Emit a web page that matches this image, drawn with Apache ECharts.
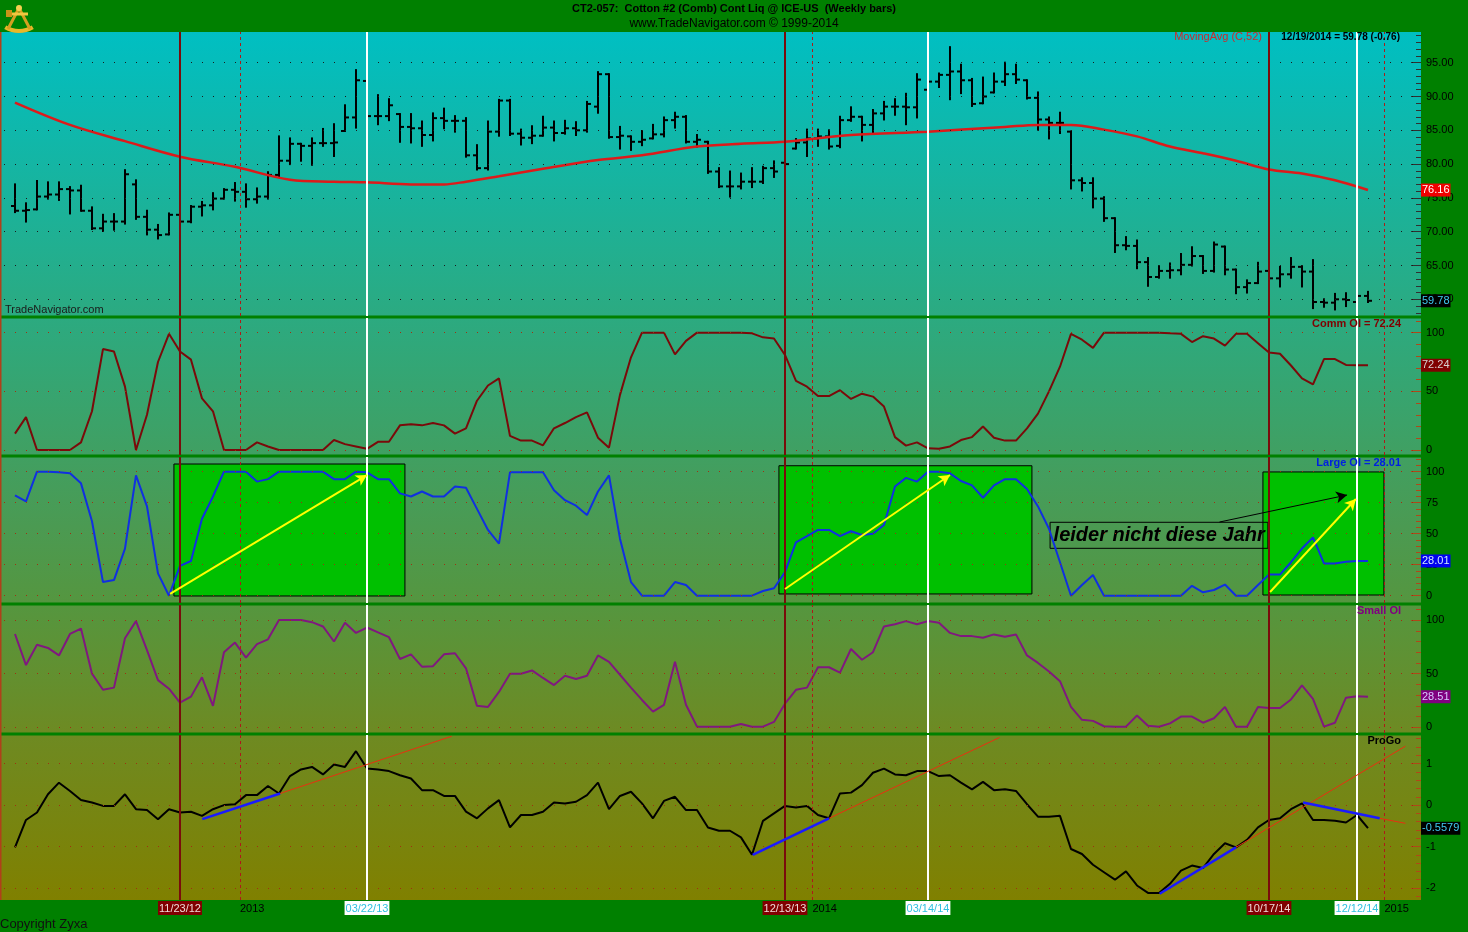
<!DOCTYPE html>
<html><head><meta charset="utf-8">
<script src="https://cdn.jsdelivr.net/npm/echarts@6/dist/echarts.min.js"></script>
<style>html,body{margin:0;padding:0;background:#008000;}#c{width:1468px;height:932px;}</style>
</head><body><div id="c"></div>
<script>
// ---------- DATA ----------
const priceOpen = [73.8,73.1,73.3,75.2,75.5,76.3,76.1,73.1,70.5,71.5,
71.5,77.0,72.2,70.3,69.6,72.5,71.5,73.7,73.9,74.9,
76.2,75.9,74.8,75.2,78.4,80.5,83.0,82.7,83.1,83.1,
84.9,86.9,92.3,87.1,87.1,87.4,85.5,85.3,84.3,86.8,
86.4,86.4,81.3,79.4,84.8,89.4,84.5,83.9,84.2,85.4,
84.6,85.3,85.0,88.5,93.3,84.0,84.1,83.3,83.8,84.4,
86.5,87.0,83.3,83.3,78.9,76.7,76.7,77.4,77.4,79.4,
80.2,82.3,83.2,83.8,84.1,82.7,86.5,87.0,85.8,87.5,
88.5,88.5,88.4,91.0,92.2,93.2,93.7,92.4,89.0,90.6,
92.2,93.3,92.4,89.8,86.6,86.1,84.8,77.6,77.2,74.9,
72.0,68.0,67.9,65.5,63.3,64.2,64.3,65.1,66.4,64.2,
67.8,64.4,61.8,62.4,64.2,63.1,63.7,64.8,64.1,59.6,
59.5,60.0,59.6,60.5];
const priceHigh = [77.0,74.2,77.5,77.3,77.3,76.6,76.8,73.6,72.5,72.6,
79.1,77.6,73.1,71.0,72.7,73.5,73.8,74.4,75.7,76.3,
77.2,77.0,76.4,78.8,84.1,83.8,83.0,83.8,85.2,85.9,
88.7,93.9,93.0,90.2,89.6,87.4,87.4,86.3,87.5,88.2,
87.1,86.8,82.8,86.3,89.5,89.5,85.1,85.6,87.0,86.3,
86.4,86.2,89.2,93.6,93.3,85.5,84.1,84.9,85.8,86.9,
87.6,87.1,84.3,83.3,79.4,78.9,78.6,79.4,79.6,80.4,
80.5,83.7,85.1,85.1,85.0,87.0,88.4,87.0,88.0,89.2,
89.6,90.4,93.3,93.0,93.4,97.3,94.7,92.6,92.8,93.4,
95.0,94.7,92.4,90.6,86.9,87.6,84.8,77.9,77.9,75.1,
72.0,69.2,68.7,66.1,64.9,65.3,66.7,67.7,66.4,68.4,
67.8,64.4,62.8,65.4,64.5,64.8,66.1,64.9,65.8,60.0,
60.8,60.9,60.7,61.1];
const priceLow = [72.9,71.5,73.3,74.9,74.7,72.7,73.1,70.4,70.1,70.3,
71.2,71.9,69.6,69.0,69.6,71.2,71.4,72.4,73.3,74.9,
74.6,73.7,74.3,74.9,78.2,80.0,80.5,79.9,82.7,81.2,
84.9,85.4,86.5,85.9,86.5,83.3,83.2,82.7,83.5,85.3,
84.8,81.1,79.2,79.2,84.2,84.3,82.9,83.1,84.2,83.5,
84.5,84.3,84.8,87.6,83.9,82.3,82.1,82.8,83.8,84.1,
85.4,83.2,82.6,78.7,76.6,75.2,76.4,76.6,77.2,78.1,
79.0,82.3,81.2,82.7,82.3,82.5,86.4,83.5,84.5,86.6,
87.3,85.9,86.9,90.5,91.4,89.6,90.5,88.6,89.0,90.6,
91.7,92.0,89.7,85.1,83.8,84.6,76.4,76.1,73.6,71.6,
67.0,67.4,64.6,62.0,63.2,63.2,63.7,65.0,63.9,64.1,
63.7,60.9,61.0,62.4,62.8,61.9,63.2,61.9,58.7,58.9,
58.5,59.0,59.5,59.6];
const priceClose = [73.1,73.2,75.2,75.5,76.3,76.1,73.1,70.5,71.5,71.5,
78.5,72.2,70.3,69.5,72.5,71.5,73.7,73.9,74.9,76.2,
75.9,74.8,75.2,78.4,80.5,83.0,82.7,83.1,83.1,83.2,
86.9,92.4,87.1,87.1,88.7,85.5,85.3,84.3,86.8,86.4,
86.4,81.3,79.4,84.8,89.4,84.5,83.9,84.2,85.4,84.6,
85.3,85.0,88.9,93.3,84.0,84.2,83.3,83.6,84.4,86.5,
87.0,83.3,83.6,78.9,76.7,76.7,77.4,77.4,79.4,78.9,
80.0,83.2,83.8,84.1,82.6,86.5,87.0,85.8,87.5,88.5,
88.5,88.4,92.5,92.2,93.2,93.7,92.4,88.9,90.0,92.2,
93.3,92.5,89.8,86.6,86.1,86.1,77.6,77.2,74.9,72.0,
68.0,67.9,65.5,63.3,64.2,64.3,65.1,66.4,64.2,68.1,
64.4,61.8,62.4,64.1,63.1,63.7,64.8,64.1,59.6,59.5,
60.0,59.9,60.5,59.78];
// 52-week moving average, read at these bar positions
const maIdx = [0,5,10,15,20,25,29,32,36,39,41,44,48,53,57,62,66,70,76,83,90,93,96,99,102,105,108,111,114,117,120,123];
const maVal = [89.1,85.8,83.4,81.1,79.6,77.7,77.4,77.3,77.0,77.0,77.4,78.2,79.3,80.6,81.3,82.6,83.0,83.3,84.3,84.8,85.5,85.8,85.8,85.1,84.1,82.6,81.6,80.5,79.2,78.6,77.6,76.16];
const commOI = [14,28,0,0,0,0,6.5,33,86,84,
54,0,30,75,99,84,77,44,33,0,
0,0,6.5,3,0,0,0,0,0,8.5,
5,3,1,7,7,21,22,21,23,21,
14,18.5,42,55,61,12,8,8,4,18.5,
23,28,32,10.5,2,47,79,100,100,100,
81.5,93,100,100,100,100,100,99.4,96,95,
81,59,54,46,46,51,43.5,48,45.5,37,
11,3.7,6.5,1.4,1,3,8.5,11,20,10.5,
8,8,18.5,31,50,71,99,94,87,100,
100,100,100,100,100,99.4,99,92,97,95,
89,99,99,91,83,82,72,61,56,77.5,
77.5,72.5,72.24,72.24];
const largeOI = [81,76,100,100,99.5,98.7,90.6,60,11,12.6,
38,97,72,18,0,24,28,62,80,100,
100,100,92,94,100,100,100,100,100,94,
94,100,99.5,94,94,82.5,80,84,80,80,
88,87,70,53,42,99.5,99.5,99.5,99.5,85,
77,72.6,65,84,97,46,11,0,0,0,
11,8.6,0,0,0,0,0,0,3.8,6,
19,43,48,53,53,48,52,49,50,57,
88,95,92,100,100,98.7,92.5,89,79,89,
94,94,86,72,54,27,0,8.6,16.7,0,
0,0,0,0,0,0,0,8,2.7,4.6,
9,0,0,8.6,17,17,27,38,47,26,
26,27.4,28,28.01];
const smallOI = [87,58,77,74,67,87,92,50,35,37,
83,99,72,44,36,23,28.6,46.6,20,70,
79,65,77.6,82,100,100,100,98,94,80,
97.5,88,93,88.5,84,63.7,68,56.5,57,68,
69,55,20,19,33,50,50,53,46,39.4,
48,45,48,67,61,49,37,25.5,14.6,21,
61,21,0.6,0.6,0.6,0.6,3,0.6,0.6,5,
22,35,37,56,56,51,73,63,70,94,
96,99,96,99,97.5,88,85,85,83.5,86.6,
84.5,86.6,67,60,52,43,19,7,6,1,
0.6,0.6,11,1.5,0.6,3.7,10,10,4.3,8.4,
19,0.6,0.6,19,18,18,26,39,26.4,0.6,
4.3,27.6,29,28.51];
const proGo = [-1.02,-0.36,-0.18,0.26,0.54,0.34,0.12,0.06,-0.02,-0.02,
0.26,-0.1,-0.12,-0.34,-0.1,-0.18,-0.16,-0.26,-0.1,0,
0.02,0.24,0.24,0.46,0.28,0.7,0.86,0.92,0.74,0.98,
0.92,1.3,0.88,0.86,0.82,0.72,0.64,0.36,0.36,0.22,
0.22,-0.16,-0.32,-0.08,0.12,-0.54,-0.24,-0.24,-0.16,0.06,
0.04,0.08,0.24,0.54,-0.1,0.22,0.32,0.04,-0.32,0.1,
0.2,-0.12,-0.12,-0.54,-0.62,-0.62,-0.78,-1.2,-0.38,-0.2,
-0.02,-0.06,-0.02,-0.24,-0.32,0.28,0.3,0.48,0.78,0.88,
0.74,0.72,0.82,0.82,0.7,0.72,0.54,0.38,0.56,0.36,
0.38,0.34,0.02,-0.28,-0.28,-0.26,-1.06,-1.18,-1.44,-1.62,
-1.8,-1.6,-1.94,-2.12,-2.12,-1.9,-1.58,-1.46,-1.52,-1.18,
-0.92,-1.02,-0.84,-0.54,-0.36,-0.32,-0.1,0.04,-0.36,-0.36,
-0.38,-0.42,-0.24,-0.5579];
// marker dates (bar positions) and labels
const redDateIdx = [15,70,114];
const whiteDateIdx = [32,83,122];
const dateIdx = [15,32,70,83,114,122];
const dateText = ['11/23/12','03/22/13','12/13/13','03/14/14','10/17/14','12/12/14'];
const dateKind = ['r','w','r','w','r','w'];
const yearIdx = [20.45,72.5,124.5];
const yearText = ['2013','2014','2015'];
// tick labels
const priceTicks = [60,65,70,75,80,85,90,95];
const commTicks = [0,50,100];
const largeTicks = [0,25,50,75,100];
const smallTicks = [0,50,100];
const progoTicks = [-2,-1,0,1];
// last-value boxes
const priceBoxes = [76.16,59.78];
const commBox = [72.24], largeBox = [28.01], smallBox = [28.51], progoBox = [-0.5579];
// annotations (in chart coordinates)
const largeBoxes = [[[14.45,106.2],[35.45,-0.24]],[[69.45,104.8],[92.45,1.4]],[[113.45,99.8],[124.45,0.56]]];
const yellowArrows = [[[14.1,1.4],[32.0,97.3]],[[70.0,5.4],[85.0,97.3]],[[114.1,3.0],[121.9,78]]];
const blackArrow = [[109.5,59.4],[121.1,81.2]];
const noteBox = [[94.1,59.2],[113.9,38.2]];
const blueTrend = [[[17.03,-0.34],[24.1,0.28]],[[67.06,-1.2],[74.0,-0.32]],[[104.06,-2.14],[111.0,-1.02]],[[117.1,0.06],[124.06,-0.32]]];
const redTrend = [[[24.1,0.28],[39.7,1.66]],[[74.0,-0.32],[89.5,1.63]],[[111.0,-1.02],[126.4,1.42]],[[124.06,-0.32],[126.4,-0.44]]];

// ---------- CHART ----------
const FONT = "'Liberation Sans', Arial, sans-serif";
const X_MIN = -1.18, X_MAX = 127.82;
function range(a,b,s){const r=[];for(let v=a;v<=b+1e-9;v+=s)r.push(Math.round(v*100)/100);return r;}
const pairs = arr => arr.map((v,i)=>[i,v]);

const grids = [
  {left:2,right:47,top:32,height:284},
  {left:2,right:47,top:318,height:137},
  {left:2,right:47,top:457,height:146},
  {left:2,right:47,top:605,height:128},
  {left:2,right:47,top:735,height:165}
];
const yRanges = [[57.53,99.54],[-4.26,112.5],[-5.89,111.85],[-5.3,114],[-2.29,1.69]];

function boxAxis(gi, vals, styles){
  return {type:'value',gridIndex:gi,position:'right',offset:0,min:yRanges[gi][0],max:yRanges[gi][1],
    axisLine:{show:false,onZero:false},splitLine:{show:false},axisTick:{show:false},
    axisLabel:{customValues:vals,margin:0,formatter:function(v){
      let k=0,b=1e9;vals.forEach((x,j)=>{if(Math.abs(x-v)<b){b=Math.abs(x-v);k=j;}});
      return '{s'+k+'|'+String(vals[k])+'}';},rich:styles}};
}
function mainAxes(gi, majors, minors, fmt, tickColor){
  return [
    {type:'value',gridIndex:gi,position:'right',offset:0,min:yRanges[gi][0],max:yRanges[gi][1],
      axisLine:{show:false,onZero:false},splitLine:{show:false},
      axisTick:{show:true,inside:true,length:10,customValues:majors,lineStyle:{color:tickColor,width:1}},
      axisLabel:{customValues:majors,formatter:fmt,margin:5,color:'#000',fontSize:11,fontFamily:FONT}},
    {type:'value',gridIndex:gi,position:'right',offset:0,min:yRanges[gi][0],max:yRanges[gi][1],
      axisLine:{show:false,onZero:false},splitLine:{show:false},
      axisTick:{show:true,inside:true,length:5,customValues:minors,lineStyle:{color:tickColor,width:1}},
      axisLabel:{show:false}}
  ];
}
function rs(bg,fg){return {backgroundColor:bg,color:fg,fontSize:11,fontFamily:FONT,padding:[1,1,1,1],lineHeight:12};}

const yAxes = [
  ...mainAxes(0, priceTicks, range(58,99,1), v=>v.toFixed(2), '#303030'),
  boxAxis(0, priceBoxes, {s0:rs('#f00000','#ffffff'), s1:rs('#000000','#40c8f0')}),
  ...mainAxes(1, commTicks, range(0,110,10), v=>String(v), '#b04818'),
  boxAxis(1, commBox, {s0:rs('#800000','#d8d0d0')}),
  ...mainAxes(2, largeTicks, range(0,110,5), v=>String(v), '#b04818'),
  boxAxis(2, largeBox, {s0:rs('#0000f0','#d0e8ff')}),
  ...mainAxes(3, smallTicks, range(0,110,10), v=>String(v), '#b04818'),
  boxAxis(3, smallBox, {s0:rs('#800080','#d8c8ff')}),
  ...mainAxes(4, progoTicks, range(-2.2,1.6,0.2), v=>String(v), '#b04818'),
  boxAxis(4, progoBox, {s0:rs('#000000','#40c8f0')})
];

const xAxes = grids.map((g,i)=>({type:'value',gridIndex:i,min:X_MIN,max:X_MAX,show:false,axisLine:{onZero:false}}));
xAxes.push({type:'value',gridIndex:4,min:X_MIN,max:X_MAX,position:'bottom',
  axisLine:{show:false,onZero:false},axisTick:{show:false},splitLine:{show:false},
  axisLabel:{customValues:dateIdx,margin:1,formatter:function(v){
    const k=dateIdx.findIndex(d=>Math.abs(d-v)<0.01);return k<0?'':'{'+dateKind[k]+'|'+dateText[k]+'}';},
    rich:{r:{backgroundColor:'#800000',color:'#f0d8d8',fontSize:11,fontFamily:FONT,padding:[2,1,1,1]},
          w:{backgroundColor:'#ffffff',color:'#30c0e0',fontSize:11,fontFamily:FONT,padding:[2,1,1,1]}}}});
xAxes.push({type:'value',gridIndex:4,min:X_MIN,max:X_MAX,position:'bottom',
  axisLine:{show:false,onZero:false},axisTick:{show:false},splitLine:{show:false},
  axisLabel:{customValues:yearIdx,margin:3,align:'left',color:'#000',fontSize:11,fontFamily:FONT,formatter:function(v){
    const k=yearIdx.findIndex(d=>Math.abs(d-v)<0.01);return k<0?'':yearText[k];}}});

function vlines(){
  return [
    ...redDateIdx.map(x=>({xAxis:x,lineStyle:{color:'#7a0c0c',width:2,type:'solid'}})),
    ...whiteDateIdx.map(x=>({xAxis:x,lineStyle:{color:'#ffffff',width:2,type:'solid'}})),
    ...yearIdx.map(x=>({xAxis:x,lineStyle:{color:'#b01818',width:1,type:[3,3]}}))
  ];
}
function hdots(vals,color){return vals.map(v=>({yAxis:v,lineStyle:{color:color,width:1,type:[1,10],dashOffset:9}}));}
function ml(extra){return {silent:true,animation:false,symbol:['none','none'],label:{show:false},data:extra};}
function segs(list,color,width,endSymbol){
  return list.map(s=>[{coord:s[0],symbol:'none',lineStyle:{color:color,width:width,type:'solid'}},
                      {coord:s[1],symbol:endSymbol||'none',symbolSize:[9,11],lineStyle:{color:color,width:width,type:'solid'}}]);
}

const ohlc = priceOpen.map((o,i)=>[i,o,priceHigh[i],priceLow[i],priceClose[i]]);

const series = [
  {type:'custom',xAxisIndex:0,yAxisIndex:0,clip:true,animation:false,silent:true,
    encode:{x:0,y:[1,2,3,4]},data:ohlc,
    renderItem:function(params,api){
      const x=api.value(0);
      const pH=api.coord([x,api.value(2)]),pL=api.coord([x,api.value(3)]);
      const pO=api.coord([x,api.value(1)]),pC=api.coord([x,api.value(4)]);
      const st={stroke:'#000',lineWidth:2};
      return {type:'group',children:[
        {type:'line',shape:{x1:pH[0],y1:pH[1]-1,x2:pL[0],y2:pL[1]+1},style:st},
        {type:'line',shape:{x1:pO[0]-4,y1:pO[1],x2:pO[0],y2:pO[1]},style:st},
        {type:'line',shape:{x1:pC[0],y1:pC[1],x2:pC[0]+4,y2:pC[1]},style:st}
      ]};
    }},
  {type:'line',name:'MA',xAxisIndex:0,yAxisIndex:0,data:maIdx.map((x,k)=>[x,maVal[k]]),smooth:0.35,
    showSymbol:false,animation:false,lineStyle:{color:'#dd1a1a',width:2.5},z:3,
    markLine:ml([...hdots(priceTicks,'#1a1a1a'),...vlines()])},
  {type:'line',name:'Comm OI',xAxisIndex:1,yAxisIndex:3,data:pairs(commOI),showSymbol:false,animation:false,
    lineStyle:{color:'#7a0a0a',width:2},markLine:ml([...hdots(commTicks,'#a03010'),...vlines()])},
  {type:'line',name:'Large OI',xAxisIndex:2,yAxisIndex:6,data:pairs(largeOI),showSymbol:false,animation:false,
    lineStyle:{color:'#1030e0',width:2},
    markArea:{silent:true,animation:false,data:[
      ...largeBoxes.map(b=>[{coord:b[0],itemStyle:{color:'#00c000',borderColor:'#000',borderWidth:1}},{coord:b[1]}]),
      [{coord:noteBox[0],itemStyle:{color:'rgba(0,0,0,0)',borderColor:'#000',borderWidth:1},
        label:{show:true,position:'insideLeft',distance:4,formatter:'leider nicht diese Jahr',color:'#000',
          fontSize:20,fontWeight:'bold',fontStyle:'italic',fontFamily:FONT}},{coord:noteBox[1]}]
    ]},
    markLine:ml([...hdots(largeTicks,'#a03010'),...vlines(),
      ...segs(yellowArrows,'#ffff00',2,'arrow'),...segs([blackArrow],'#000000',1,'arrow')])},
  {type:'line',name:'Small OI',xAxisIndex:3,yAxisIndex:9,data:pairs(smallOI),showSymbol:false,animation:false,
    lineStyle:{color:'#80187f',width:2},markLine:ml([...hdots(smallTicks,'#a03010'),...vlines()])},
  {type:'line',name:'ProGo',xAxisIndex:4,yAxisIndex:12,data:pairs(proGo),showSymbol:false,animation:false,
    lineStyle:{color:'#000000',width:2},z:4,
    markLine:ml([...hdots(progoTicks,'#a03010'),...vlines(),...segs(redTrend,'#e83010',1),...segs(blueTrend,'#1a1aff',2.5)])}
];

const bgGrad = {type:'linear',x:0,y:0,x2:0,y2:1,colorStops:[
  {offset:0,color:'#00bfc2'},{offset:0.33,color:'#2caa80'},{offset:0.57,color:'#4b9a52'},
  {offset:0.66,color:'#55963f'},{offset:0.81,color:'#6e8a22'},{offset:1,color:'#808000'}]};
function txt(x,y,text,color,size,weight,align,style){
  return {type:'text',x:x,y:y,z:20,silent:true,style:{text:text,fill:color,
    font:(style||'normal')+' '+(weight||'normal')+' '+size+'px '+FONT,textAlign:align||'left',textVerticalAlign:'middle'}};
}
const graphics = [
  {type:'rect',z:-10,silent:true,shape:{x:0,y:32,width:1421,height:868},style:{fill:bgGrad}},
  {type:'rect',z:1,silent:true,shape:{x:0,y:315.5,width:1421,height:3},style:{fill:'#008000'}},
  {type:'rect',z:1,silent:true,shape:{x:0,y:454.5,width:1421,height:3},style:{fill:'#008000'}},
  {type:'rect',z:1,silent:true,shape:{x:0,y:602.5,width:1421,height:3},style:{fill:'#008000'}},
  {type:'rect',z:1,silent:true,shape:{x:0,y:732.5,width:1421,height:3},style:{fill:'#008000'}},
  {type:'rect',z:1,silent:true,shape:{x:0,y:32,width:1.5,height:868},style:{fill:'#b0401a'}},
  txt(734,9,'CT2-057:  Cotton #2 (Comb) Cont Liq @ ICE-US  (Weekly bars)','#000',11,'bold','center'),
  txt(734,24,'www.TradeNavigator.com \u00a9 1999-2014','#000',12,'normal','center'),
  txt(1262,37,'MovingAvg (C,52)','#d02828',11,'normal','right'),
  txt(1400,37,'12/19/2014 = 59.78 (-0.76)','#000',10,'bold','right'),
  txt(1401,324,'Comm OI = 72.24','#800000',11,'bold','right'),
  txt(1401,463,'Large OI = 28.01','#0020e0',11,'bold','right'),
  txt(1401,611,'Small OI','#800080',11,'bold','right'),
  txt(1401,741,'ProGo','#000',11,'bold','right'),
  txt(5,310,'TradeNavigator.com','#1a1a1a',11,'normal','left'),
  txt(0,924,'Copyright Zyxa','#101010',13,'normal','left'),
  {type:'group',x:4,y:2,z:20,silent:true,children:[
    {type:'arc',shape:{cx:15,cy:2,r:27,startAngle:Math.PI*0.33,endAngle:Math.PI*0.67},style:{stroke:'#e8b828',lineWidth:4,fill:null}},
    {type:'polyline',shape:{points:[[4,27],[15,6],[26,27]]},style:{stroke:'#d4a020',lineWidth:3,fill:null}},
    {type:'line',shape:{x1:3,y1:12,x2:24,y2:12},style:{stroke:'#f0c840',lineWidth:3}},
    {type:'rect',shape:{x:2,y:8,width:6,height:7},style:{fill:'#c89418'}},
    {type:'circle',shape:{cx:15,cy:6,r:3},style:{fill:'#f4d050'}}
  ]}
];

const chart = echarts.init(document.getElementById('c'),null,{renderer:'canvas'});
chart.setOption({
  backgroundColor:'#008000',animation:false,
  grid:grids,xAxis:xAxes,yAxis:yAxes,series:series,graphic:graphics
});
</script></body></html>
